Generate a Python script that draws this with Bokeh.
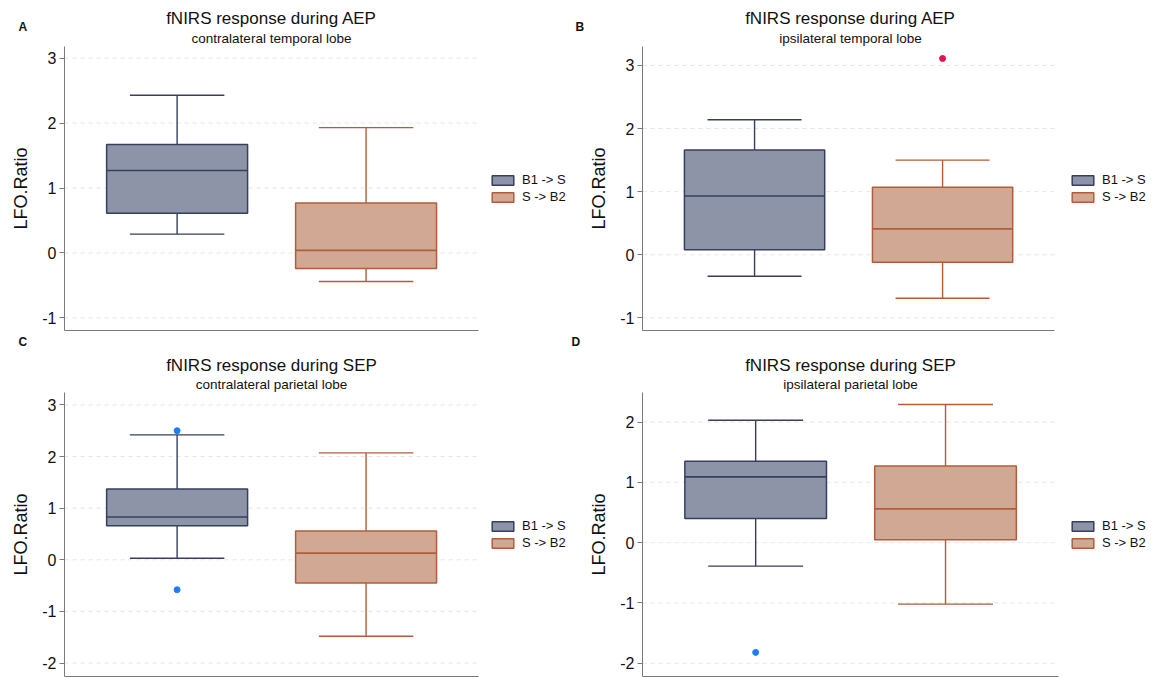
from bokeh.plotting import figure
from bokeh.models import (ColumnDataSource, Range1d, FixedTicker, Title,
                          Legend, LegendItem)
from bokeh.transform import dodge
from bokeh.layouts import gridplot
from bokeh.embed import file_html
from bokeh.resources import INLINE

# ---------------- data ----------------
groups = ["B1 -> S", "S -> B2"]
panels = ["A", "B", "C", "D"]
main_titles = ["fNIRS response during AEP", "fNIRS response during AEP",
               "fNIRS response during SEP", "fNIRS response during SEP"]
sub_titles = ["contralateral temporal lobe", "ipsilateral temporal lobe",
              "contralateral parietal lobe", "ipsilateral parietal lobe"]

# per panel: [B1 -> S, S -> B2]
lower_whisker = [[0.29, -0.44], [-0.34, -0.69], [0.03, -1.48], [-0.39, -1.02]]
q1_values     = [[0.61, -0.24], [0.08, -0.12], [0.66, -0.45], [0.40, 0.05]]
medians       = [[1.27, 0.04], [0.93, 0.41], [0.83, 0.13], [1.09, 0.56]]
q3_values     = [[1.67, 0.77], [1.66, 1.07], [1.37, 0.56], [1.35, 1.27]]
upper_whisker = [[2.43, 1.93], [2.14, 1.50], [2.42, 2.07], [2.03, 2.29]]
outliers      = [[[], []], [[], [3.11]], [[2.50, -0.58], []], [[-1.82], []]]

y_ticks  = [[-1, 0, 1, 2, 3], [-1, 0, 1, 2, 3], [-2, -1, 0, 1, 2, 3], [-2, -1, 0, 1, 2]]
y_limits = [(-1.195, 3.18), (-1.2, 3.30), (-2.26, 3.24), (-2.22, 2.49)]

# ---------------- style ----------------
FONT = "Liberation Sans"
fill_colors = ["#8D94A7", "#D0A893"]
line_colors = ["#36405E", "#B25D3A"]
outlier_colors = ["#1F7EF2", "#E0124F", "#1F7EF2", "#1F7EF2"]
AXIS_COLOR = "#7a7a7a"
GRID_COLOR = "#e6e6e6"
TEXT_COLOR = "#111111"
MAIN_SIZE, SUB_SIZE = 17, 13.5

X_LO, X_HI = 0.404, 2.595          # extent of the plotting area (axis line) in x units
# width, height, left, right, top, bottom
sizes = [(570, 331, 64, 2, 46, 1),
         (582, 331, 67, 2, 46, 1),
         (570, 346, 64, 2, 61, 1),
         (582, 346, 72, 2, 61, 1)]
area_px = [414, 416, 414, 416]      # pixel width of the plotting area (legend sits right of it)
letter_offset = [-46, -67, -46, -71]
top_row = [True, True, False, False]

# Arial / Liberation Sans advance widths (1/1000 em), used to centre titles on the plotting area
ADV = {"f": 278, "N": 722, "I": 278, "R": 722, "S": 667, " ": 278, "r": 333, "e": 556,
       "s": 500, "p": 556, "o": 556, "n": 556, "d": 556, "u": 556, "i": 222, "g": 556,
       "A": 667, "E": 667, "P": 667, "c": 500, "t": 278, "a": 556, "l": 222, "m": 833,
       "b": 556}


def text_width(s, size):
    return sum(ADV.get(ch, 556) for ch in s) * size / 1000.0


def make_panel(i):
    w, h, l, r, t, b = sizes[i]
    fw, fh = w - l - r, h - t - b
    x_end = X_LO + fw * (X_HI - X_LO) / area_px[i]
    p = figure(width=w, height=h, x_range=Range1d(X_LO, x_end),
               y_range=Range1d(*y_limits[i]), output_backend="svg",
               toolbar_location=None, min_border_left=l, min_border_right=r,
               min_border_top=t, min_border_bottom=b)
    p.outline_line_color = None
    p.background_fill_color = "white"

    # dashed horizontal grid lines, limited to the plotting area
    ticks = y_ticks[i]
    p.segment(x0=[X_LO] * len(ticks), x1=[X_HI] * len(ticks), y0=ticks, y1=ticks,
              line_color=GRID_COLOR, line_dash="4 4", line_width=1)

    xs = [k + 1 for k in range(len(groups))]
    src = ColumnDataSource(dict(x=xs, lw=lower_whisker[i], q1=q1_values[i],
                                med=medians[i], q3=q3_values[i], uw=upper_whisker[i],
                                fill=fill_colors, line=line_colors))

    # whiskers
    p.segment(x0="x", x1="x", y0="q3", y1="uw", line_color="line", line_width=1.4, source=src)
    p.segment(x0="x", x1="x", y0="q1", y1="lw", line_color="line", line_width=1.4, source=src)
    p.segment(x0=dodge("x", -0.25), x1=dodge("x", 0.25), y0="uw", y1="uw",
              line_color="line", line_width=1.4, source=src)
    p.segment(x0=dodge("x", -0.25), x1=dodge("x", 0.25), y0="lw", y1="lw",
              line_color="line", line_width=1.4, source=src)
    # boxes
    boxes = p.vbar(x="x", width=0.746, bottom="q1", top="q3", fill_color="fill",
                   line_color="line", line_width=1.5, source=src)
    p.segment(x0=dodge("x", -0.373), x1=dodge("x", 0.373), y0="med", y1="med",
              line_color="line", line_width=1.6, source=src)

    # outliers
    ox, oy = [], []
    for k, vals in enumerate(outliers[i]):
        for v in vals:
            ox.append(xs[k])
            oy.append(v)
    if ox:
        p.scatter(x=ox, y=oy, size=6, color=outlier_colors[i])

    # axes
    xa = p.xaxis[0]
    xa.ticker = FixedTicker(ticks=[])
    xa.bounds = (X_LO, X_HI)
    xa.major_label_text_font_size = "0px"
    xa.major_tick_line_color = None
    xa.minor_tick_line_color = None
    xa.major_tick_out = 0
    xa.major_label_standoff = 0
    xa.axis_line_color = AXIS_COLOR

    ya = p.yaxis[0]
    ya.ticker = FixedTicker(ticks=ticks)
    ya.major_label_overrides = {v: str(v) for v in ticks}
    ya.axis_label = "LFO.Ratio"
    ya.axis_label_text_font = FONT
    ya.axis_label_text_font_size = "18px"
    ya.axis_label_text_font_style = "normal"
    ya.axis_label_text_color = TEXT_COLOR
    ya.axis_label_standoff = 8
    ya.major_label_text_font = FONT
    ya.major_label_text_font_size = "16px"
    ya.major_label_text_color = TEXT_COLOR
    ya.major_label_standoff = 3
    ya.major_tick_out = 5
    ya.major_tick_in = 0
    ya.major_tick_line_color = AXIS_COLOR
    ya.minor_tick_line_color = None
    ya.axis_line_color = AXIS_COLOR

    p.xgrid.visible = False
    p.ygrid.visible = False

    # titles (first added sits closest to the plot), centred on the plotting area
    sub_off = area_px[i] / 2 - text_width(sub_titles[i], SUB_SIZE) / 2
    main_off = area_px[i] / 2 - text_width(main_titles[i], MAIN_SIZE) / 2
    sub = Title(text=sub_titles[i], align="left", offset=sub_off, text_font=FONT,
                text_font_size=f"{SUB_SIZE}px", text_font_style="normal",
                text_color=TEXT_COLOR, standoff=1)
    main = Title(text=main_titles[i], align="left", offset=main_off, text_font=FONT,
                 text_font_size=f"{MAIN_SIZE}px", text_font_style="normal",
                 text_color=TEXT_COLOR, standoff=0)
    if top_row[i]:
        letter = Title(text=panels[i], align="left", offset=letter_offset[i],
                       vertical_align="top", text_font=FONT, text_font_size="12px",
                       text_font_style="bold", text_color=TEXT_COLOR, standoff=-15)
        stack = [sub, letter, main]
    else:
        letter = Title(text=panels[i], align="left", offset=letter_offset[i],
                       vertical_align="top", text_font=FONT, text_font_size="12px",
                       text_font_style="bold", text_color=TEXT_COLOR, standoff=6)
        stack = [sub, main, letter]
    for tt in stack:
        p.add_layout(tt, "above")

    # legend just right of the plotting area
    items = [LegendItem(label=groups[k], renderers=[boxes], index=k) for k in range(len(groups))]
    leg_h = 2 * 15 + 2
    legend = Legend(items=items, location=(area_px[i] + 11, (fh - leg_h) / 2),
                    padding=0, margin=0, spacing=2, glyph_width=27, glyph_height=12,
                    label_height=15, label_standoff=6, label_text_font=FONT,
                    label_text_font_size="13px", label_text_color=TEXT_COLOR,
                    border_line_color=None, background_fill_alpha=0)
    p.add_layout(legend)
    return p


figs = [make_panel(i) for i in range(4)]
grid = gridplot([[figs[0], figs[1]], [figs[2], figs[3]]], toolbar_location=None)

open("out.html", "w").write(file_html(grid, INLINE))
